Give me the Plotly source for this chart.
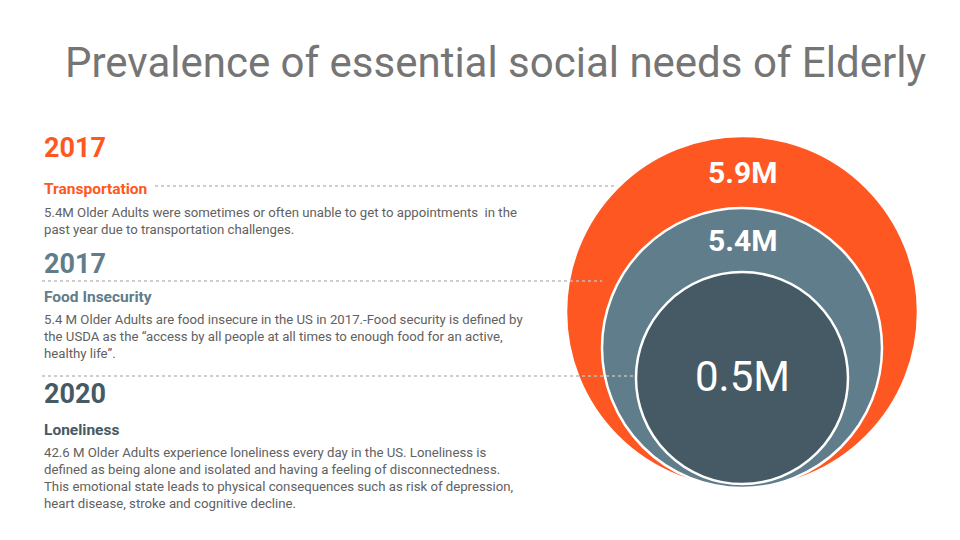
import plotly.graph_objects as go

# data
values = ["5.9M", "5.4M", "0.5M"]
radii = [176, 140, 106]
centers_y = [312, 348, 378]
circle_colors = ["#FF5722", "#607D8B", "#455A64"]
years = ["2017", "2017", "2020"]
needs = ["Transportation", "Food Insecurity", "Loneliness"]
descs = [
    "5.4M Older Adults were sometimes or often unable to get to appointments  in the<br>past year due to transportation challenges.",
    "5.4 M Older Adults are food insecure in the US in 2017.-Food security is defined by<br>the USDA as the “access by all people at all times to enough food for an active,<br>healthy life”.",
    "42.6 M Older Adults experience loneliness every day in the US. Loneliness is<br>defined as being alone and isolated and having a feeling of disconnectedness.<br>This emotional state leads to physical consequences such as risk of depression,<br>heart disease, stroke and cognitive decline.",
]
year_colors = ["#FF5722", "#607D8B", "#455A64"]

cx = 742
fig = go.Figure()
shapes = []
for r, cy, c in zip(radii, centers_y, circle_colors):
    shapes.append(dict(type="circle", x0=cx - r, x1=cx + r, y0=cy - r, y1=cy + r,
                       fillcolor=c, line=dict(color="white", width=2.5), layer="below"))

# dotted leader lines
leaders = [(155, 186, 615), (42, 281, 602), (42, 376, 636)]
for x0, y, x1 in leaders:
    shapes.append(dict(type="line", x0=x0, x1=x1, y0=y, y1=y,
                       line=dict(color="#BDBDBD", width=1.5, dash="dot")))

ann = []
ann.append(dict(x=495, y=62, text="Prevalence of essential social needs of Elderly", showarrow=False,
                font=dict(size=42, color="#757575", family="Roboto"), xanchor="center", yanchor="middle"))
label_y = [172, 240, 376]
label_text = ["<b>5.9M</b>", "<b>5.4M</b>", "0.5M"]
label_sizes = [30, 30, 42]
for t, y, s in zip(label_text, label_y, label_sizes):
    ann.append(dict(x=cx, y=y, text=t, showarrow=False,
                    font=dict(size=s, color="white", family="Roboto"),
                    xanchor="center", yanchor="middle"))

year_y = [148, 264, 394]
need_y = [189, 297, 430]
desc_y = [203, 310, 443]
for i in range(3):
    ann.append(dict(x=42, y=year_y[i], text="<b>" + years[i] + "</b>", showarrow=False,
                    font=dict(size=27, color=year_colors[i], family="Roboto"),
                    xanchor="left", yanchor="middle"))
    ann.append(dict(x=42, y=need_y[i], text="<b>" + needs[i] + "</b>", showarrow=False,
                    font=dict(size=15.5, color=year_colors[i], family="Roboto"),
                    xanchor="left", yanchor="middle"))
    ann.append(dict(x=42, y=desc_y[i], text=descs[i], showarrow=False, align="left",
                    font=dict(size=13.2, color="#616161", family="Roboto"),
                    xanchor="left", yanchor="top"))

fig.update_layout(
    width=960, height=540, margin=dict(l=0, r=0, t=0, b=0),
    paper_bgcolor="white", plot_bgcolor="white",
    xaxis=dict(range=[8, 968], visible=False, fixedrange=True),
    yaxis=dict(range=[548, 8], visible=False, fixedrange=True),
    shapes=shapes, annotations=ann, showlegend=False,
)
fig.write_html("out.html")
